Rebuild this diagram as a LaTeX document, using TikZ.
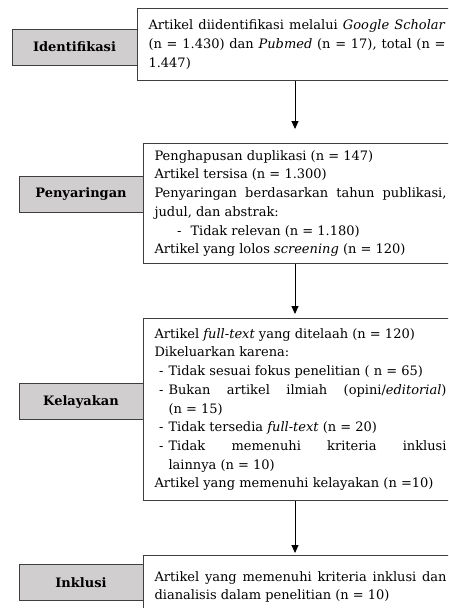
\documentclass[tikz,border=0pt]{standalone}
\usepackage{fontspec}
\setmainfont{DejaVu Serif}
\definecolor{labelgray}{HTML}{D0CECE}
\definecolor{edgegray}{HTML}{3F3F3F}
\usetikzlibrary{arrows.meta, positioning}
\setlength{\parindent}{0pt}
\hyphenpenalty=10000
\exhyphenpenalty=10000
\newcommand{\butir}[3]{{\leftskip=#1\noindent\llap{-\hspace{#2}}#3\par}}
\tikzset{
	tahap/.style={rectangle, draw=edgegray, fill=labelgray, line width=0.9pt, minimum width=124pt, minimum height=36pt, font=\bfseries\fontsize{13}{15}\selectfont},
	isi/.style={rectangle, draw=edgegray, line width=1.1pt, anchor=north west, align=justify, text width=292pt, inner xsep=11pt, inner ysep=0pt, font=\fontsize{13}{18.7}\selectfont},
	arrow/.style={-{Triangle[length=8pt, width=7pt]}, line width=0.9pt, draw=black},
}

\begin{document}
\begin{tikzpicture}[x=1pt, y=-1pt]
	\useasboundingbox (0,0) rectangle (448,608);
	\clip (0,0) rectangle (448,608);
	% kotak isi
	\node[isi, text width=297pt, minimum height=72pt] (identIsi) at (137,8) {Artikel diidentifikasi melalui \emph{Google Scholar}\linebreak (n = 1.430) dan \emph{Pubmed} (n = 17), total (n =\linebreak 1.447)};
	\node[isi, minimum height=120pt] (saringIsi) at (143,143) {Penghapusan duplikasi (n = 147)\par
		Artikel tersisa (n = 1.300)\par
		Penyaringan berdasarkan tahun publikasi,\linebreak judul, dan abstrak:\par
		\butir{36pt}{9pt}{Tidak relevan (n = 1.180)}
		Artikel yang lolos \emph{screening} (n = 120)};
	\node[isi, minimum height=182pt] (layakIsi) at (143,318) {Artikel \emph{full-text} yang ditelaah (n = 120)\par
		Dikeluarkan karena:\par
		\butir{14pt}{5pt}{Tidak sesuai fokus penelitian ( n = 65)}
		\butir{14pt}{5pt}{Bukan artikel ilmiah (opini/\emph{editorial})\linebreak (n = 15)}
		\butir{14pt}{5pt}{Tidak tersedia \emph{full-text} (n = 20)}
		\butir{14pt}{5pt}{Tidak memenuhi kriteria inklusi\linebreak lainnya (n = 10)}
		Artikel yang memenuhi kelayakan (n =10)};
	\node[isi, minimum height=63pt] (inklusiIsi) at (143,555) {Artikel yang memenuhi kriteria inklusi dan\linebreak dianalisis dalam penelitian (n = 10)};
	% label tahap
	\node[tahap, minimum width=125pt] (identTahap) at (74.5,47) {Identifikasi};
	\node[tahap] (saringTahap) at (81,194.5) {Penyaringan};
	\node[tahap] (layakTahap) at (81,401.5) {Kelayakan};
	\node[tahap] (inklusiTahap) at (81,582.5) {Inklusi};
	% panah
	\coordinate (jalur) at (295,0);
	\draw[arrow, shorten >=14pt] (identIsi.south -| jalur) -- (saringIsi.north -| jalur);
	\draw[arrow, shorten >=4pt] (saringIsi.south -| jalur) -- (layakIsi.north -| jalur);
	\draw[arrow, shorten >=2pt] (layakIsi.south -| jalur) -- (inklusiIsi.north -| jalur);
\end{tikzpicture}
\end{document}
